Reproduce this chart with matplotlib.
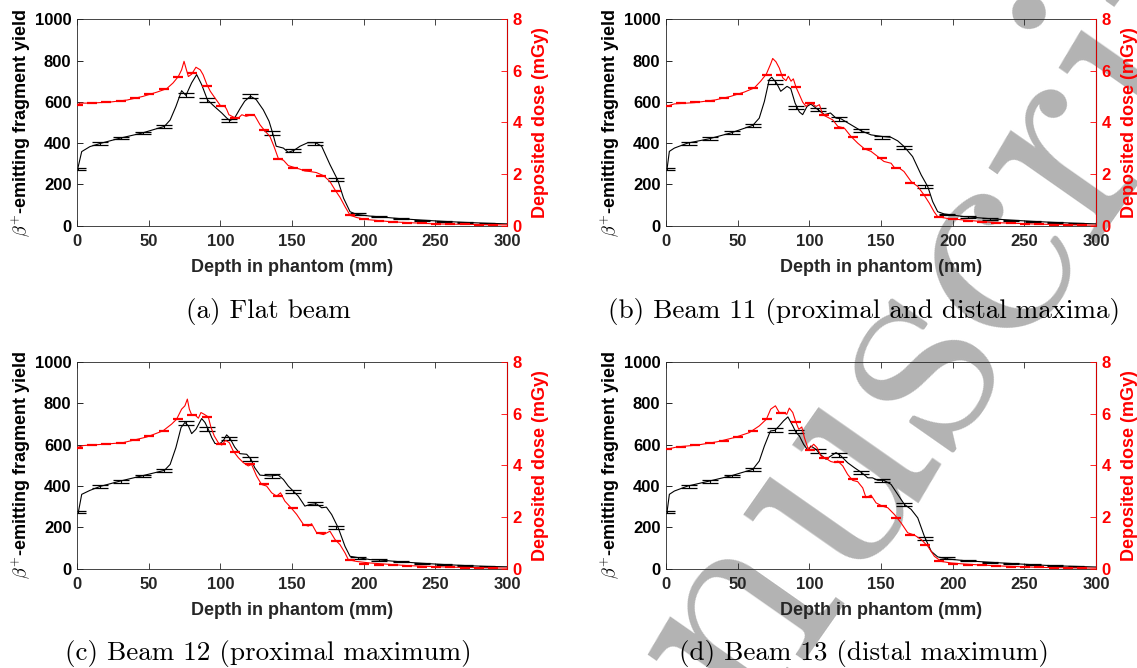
import matplotlib
matplotlib.use("Agg")
import matplotlib.pyplot as plt

plt.rcParams['font.family'] = ['Liberation Sans', 'DejaVu Sans']
plt.rcParams['font.weight'] = 'bold'
plt.rcParams['axes.labelweight'] = 'bold'
plt.rcParams['mathtext.fontset'] = 'cm'

# depth of the error-bar samples (mm) and their half widths
ebar_x = [1, 16, 31, 46, 61, 76, 91, 106, 121, 136, 151, 166, 181, 196, 211, 226, 241, 256, 271, 286]
ebar_err = [6, 7, 7, 7, 8, 10, 9, 8, 9, 8, 7, 7, 7, 4, 3, 3, 3, 3, 3, 3]
# depth of the dose markers (mm)
dmark_x = [0.5, 10.5, 20.5, 30.5, 40.5, 50.5, 60.5, 70.5, 80.5, 90.5, 100.5, 110.5, 120.5, 130.5, 140.5,
           150.5, 160.5, 170.5, 180.5, 190.5, 200.5, 210.5, 220.5, 230.5, 240.5, 250.5, 260.5, 270.5, 280.5, 290.5]

# (a) flat beam
yield_x_a = [0.5, 3.3, 9, 16, 30, 45, 61, 65, 69, 73, 76, 80, 83.5, 87, 91, 95, 101, 104.4, 106.7, 110, 114, 117,
             121, 125, 130, 134, 136.5, 139, 144, 147.4, 151.6, 155.6, 161, 166.5, 170.7, 176.5, 182, 186, 190.5,
             195, 204, 211, 226, 241, 256, 271, 286, 300]
yield_a = [275, 359, 383, 398, 424, 448, 481, 512, 577, 654, 631, 692, 732, 683, 610, 583, 546, 522, 509, 522, 570,
           603, 627, 611, 561, 506, 449, 385, 376, 355, 366, 385, 402, 402, 385, 296, 220, 133, 68, 55, 47, 43, 34,
           27, 21, 16, 12, 9]
dose_x_a = [0, 2, 9, 23, 35, 46, 56, 62.6, 67, 70.7, 73, 74.7, 76, 77.7, 80, 83, 86, 88, 90.5, 93, 96, 100, 102,
            103.5, 104.5, 106, 109.5, 112.6, 115, 118, 122, 124, 127.7, 131, 134.6, 137.4, 140.5, 144, 147.4, 152,
            155.6, 159, 162.6, 167, 172, 176.5, 180, 183.5, 187, 190.5, 195, 200, 204, 220, 250, 300]
dose_a = [4.66, 4.75, 4.75, 4.79, 4.87, 5.01, 5.18, 5.31, 5.53, 5.78, 6.04, 6.37, 6.11, 5.78, 5.87, 6.14, 6.04,
          5.85, 5.49, 5.21, 4.97, 4.66, 4.64, 4.6, 4.5, 4.3, 4.2, 4.17, 4.3, 4.24, 4.3, 4.27, 3.91, 3.68, 3.46,
          3.08, 2.6, 2.54, 2.33, 2.25, 2.19, 2.12, 2.1, 2.06, 1.94, 1.71, 1.39, 1.1, 0.74, 0.41, 0.32, 0.26, 0.23,
          0.15, 0.07, 0.03]
ebar_a = [275, 398, 425, 449, 481, 631, 610, 510, 627, 449, 363, 400, 222, 57, 43, 34, 27, 21, 16, 12]
dmark_a = [4.68, 4.76, 4.79, 4.84, 4.94, 5.09, 5.28, 5.76, 5.92, 5.43, 4.62, 4.19, 4.3, 3.72, 2.6, 2.24, 2.14, 1.92,
           1.35, 0.42, 0.26, 0.19, 0.15, 0.12, 0.09, 0.07, 0.06, 0.05, 0.04, 0.03]

# (b) beam 11
yield_x_b = [0.7, 2.3, 5.8, 15, 30, 45, 60.5, 65, 68.6, 72, 73.7, 77, 80, 84.4, 87, 90, 93, 95.3, 98.4, 101, 106,
             110.5, 114.7, 118.6, 122, 129, 136, 143, 151, 157, 161.6, 166, 172, 178, 182.6, 186, 189.5, 194, 208,
             226, 241, 256, 271, 286, 300]
yield_b = [275, 360, 376, 400, 421, 449, 486, 521, 602, 708, 719, 692, 651, 675, 664, 594, 551, 538, 578, 589, 562,
           538, 546, 521, 518, 489, 460, 440, 432, 428, 411, 384, 335, 246, 189, 117, 68, 57, 44, 34, 27, 21, 16,
           12, 9]
dose_x_b = [0, 5.8, 20, 34, 45, 54.7, 61.6, 66, 70, 73, 74.4, 76.7, 79, 81.4, 83.7, 85.3, 87.2, 88.8, 90.7, 93,
            95.3, 97.7, 100, 102.3, 104.6, 107, 109.3, 112.8, 116.3, 119.8, 124.4, 129, 133.7, 138.4, 143, 147.7,
            152, 157, 159.3, 162.8, 166, 171, 175.6, 180, 183.7, 187, 189.5, 196.5, 208, 230, 260, 300]
dose_b = [4.62, 4.72, 4.77, 4.87, 5.01, 5.18, 5.34, 5.6, 5.88, 6.27, 6.48, 6.35, 6.11, 5.73, 5.62, 5.79, 5.6, 5.69,
          5.36, 5.08, 4.79, 4.62, 4.75, 4.72, 4.62, 4.69, 4.3, 4.2, 4.1, 3.85, 3.78, 3.46, 3.2, 2.98, 2.88, 2.68,
          2.49, 2.42, 2.25, 2.23, 2.1, 1.71, 1.52, 1.19, 0.87, 0.54, 0.35, 0.28, 0.22, 0.12, 0.06, 0.02]
ebar_b = [275, 400, 423, 450, 487, 695, 573, 562, 517, 460, 429, 379, 190, 55, 42, 33, 26, 20, 15, 11]
dmark_b = [4.62, 4.74, 4.78, 4.85, 4.95, 5.1, 5.32, 5.85, 5.85, 5.36, 4.75, 4.3, 3.8, 3.42, 2.98, 2.64, 2.25, 1.65,
           1.19, 0.35, 0.25, 0.18, 0.14, 0.11, 0.09, 0.07, 0.05, 0.04, 0.03, 0.02]

# (c) beam 12
yield_x_c = [1, 3.3, 9, 16, 30, 45, 61, 65, 69, 72.6, 75.3, 77.7, 80, 83, 87, 89.3, 91.6, 94, 96.3, 99.8, 102,
             104.4, 106.7, 110, 113.7, 118.4, 121.4, 124, 127.7, 134.7, 140.5, 144, 147.4, 151, 154.4, 159, 162.6,
             167, 170.7, 174, 177.7, 182.3, 187, 190.5, 197.4, 204.4, 211, 226, 241, 256, 271, 286, 300]
yield_c = [275, 360, 379, 398, 424, 449, 476, 505, 586, 683, 708, 692, 654, 675, 727, 708, 675, 635, 606, 606, 619,
           648, 632, 589, 557, 554, 530, 489, 453, 449, 453, 432, 400, 375, 351, 303, 311, 314, 295, 298, 262, 197,
           108, 60, 52, 44, 42, 33, 26, 20, 15, 11, 9]
dose_x_c = [0, 4.4, 18.4, 32, 48.6, 60, 66, 69.5, 73, 75.3, 77, 78.4, 80, 82.3, 84.7, 86.5, 88.8, 91.6, 93.5, 95.8,
            98.6, 101, 103.7, 106.3, 109, 112.6, 116, 119.5, 121.8, 125.3, 128.8, 132.3, 135.8, 139.3, 142, 145,
            149.8, 153.3, 158, 161.4, 163.7, 167.2, 171.9, 176.5, 180, 183.5, 187, 189.3, 195, 204.4, 230, 260, 300]
dose_c = [4.69, 4.77, 4.82, 4.88, 5.1, 5.34, 5.6, 5.79, 6.18, 6.31, 6.57, 6.18, 5.96, 5.96, 5.83, 6.05, 5.98, 5.88,
          5.47, 5.14, 4.88, 4.79, 4.97, 4.88, 4.56, 4.3, 4.11, 3.98, 4.04, 3.59, 3.26, 3.2, 2.94, 2.81, 2.94, 2.62,
          2.33, 2.1, 1.71, 1.65, 1.74, 1.39, 1.32, 1.45, 1.13, 0.93, 0.61, 0.35, 0.28, 0.22, 0.12, 0.06, 0.02]
ebar_c = [275, 398, 424, 449, 476, 707, 678, 630, 530, 449, 375, 314, 201, 52, 42, 33, 26, 20, 15, 11]
dmark_c = [4.69, 4.79, 4.82, 4.87, 4.98, 5.13, 5.34, 5.79, 5.96, 5.88, 4.82, 4.52, 4.04, 3.29, 2.81, 2.36, 1.71, 1.39,
           1.09, 0.32, 0.19, 0.16, 0.13, 0.1, 0.08, 0.07, 0.05, 0.04, 0.03, 0.02]

# (d) beam 13
yield_x_d = [0.7, 2.3, 5.8, 15, 30, 45, 60.5, 65, 68.6, 72.8, 76, 79, 82, 85, 88.4, 90.7, 93, 96, 99, 101, 104.6,
             108, 111.6, 115, 118.6, 122, 126.7, 131.4, 136.5, 140.7, 144, 147.7, 151.9, 157, 161.6, 166.3, 171,
             175.6, 180.2, 185, 189.5, 196.5, 208, 226, 241, 256, 271, 286, 300]
yield_d = [275, 360, 376, 400, 424, 449, 481, 521, 594, 667, 670, 692, 716, 735, 692, 659, 643, 602, 573, 594, 578,
           551, 530, 546, 562, 546, 513, 489, 465, 440, 440, 428, 428, 408, 360, 311, 287, 246, 157, 84, 57, 47, 39,
           31, 25, 19, 14, 11, 8]
dose_x_d = [0, 8, 22, 36, 47.7, 58, 65, 70, 73, 76.3, 79, 82, 84.2, 86, 88.4, 90.7, 92.6, 94.7, 96.5, 99, 101, 103,
            105.3, 108, 111.6, 115, 118, 119.8, 123.3, 126.7, 130.2, 133.7, 137.2, 139.5, 143, 146.5, 151, 154.7,
            159.3, 164, 168.6, 173.3, 178, 182.6, 187.2, 192, 199, 208, 230, 260, 300]
dose_d = [4.62, 4.72, 4.79, 4.92, 5.08, 5.27, 5.53, 5.79, 6.18, 6.31, 6.05, 6.05, 5.98, 6.22, 6.05, 5.66, 5.4, 5.49,
          5.08, 4.66, 4.71, 4.82, 4.69, 4.37, 4.27, 4.15, 4.11, 4.17, 3.98, 3.65, 3.42, 3.37, 3.13, 2.75, 2.85, 2.55,
          2.42, 2.36, 2.1, 1.77, 1.39, 1.3, 1.13, 0.87, 0.48, 0.28, 0.22, 0.18, 0.11, 0.05, 0.02]
ebar_d = [275, 400, 421, 449, 481, 670, 664, 570, 551, 465, 429, 311, 144, 52, 40, 31, 25, 19, 14, 11]
dmark_d = [4.62, 4.72, 4.78, 4.86, 4.96, 5.12, 5.33, 5.79, 6.02, 5.7, 4.6, 4.27, 4.15, 3.46, 2.77, 2.42, 1.97, 1.32,
           0.93, 0.28, 0.19, 0.16, 0.13, 0.1, 0.08, 0.06, 0.05, 0.04, 0.03, 0.02]

captions = ['(a) Flat beam', '(b) Beam 11 (proximal and distal maxima)',
            '(c) Beam 12 (proximal maximum)', '(d) Beam 13 (distal maximum)']

DARK = '#262626'


def draw_panel(rect, yx, yv, dx, dv, ev, mv):
    ax = fig.add_axes(rect)
    ax.set_facecolor('none')
    ax.plot(yx, yv, color='k', lw=0.8)
    ax.errorbar(ebar_x, ev, yerr=ebar_err, fmt='none', ecolor='k', elinewidth=0.8,
                capsize=6, capthick=0.9)
    ax.set_xlim(0, 300)
    ax.set_ylim(0, 1000)
    ax.set_xticks(range(0, 301, 50))
    ax.set_yticks(range(0, 1001, 200))
    ax.tick_params(direction='in', length=4, width=0.6, labelsize=12, top=True, right=False, pad=4)
    ax.tick_params(axis='x', colors=DARK, pad=6)
    ax.tick_params(axis='y', colors='k')
    for s in ['left', 'bottom', 'top']:
        ax.spines[s].set_color(DARK)
        ax.spines[s].set_linewidth(0.6)
    ax.set_xlabel('Depth in phantom (mm)', fontsize=13, fontweight='bold', color=DARK, labelpad=7)
    ax.set_ylabel(r'$\beta^{+}$-emitting fragment yield', fontsize=13, fontweight='bold', color='k',
                  labelpad=1)

    ax2 = ax.twinx()
    ax2.plot(dx, dv, color='r', lw=0.8)
    ax2.plot(dmark_x, mv, ls='none', marker='_', ms=7, mew=1.6, color='r')
    ax2.set_ylim(0, 8)
    ax2.set_yticks(range(0, 9, 2))
    ax2.tick_params(direction='in', length=4, width=0.6, labelsize=12, colors='r', pad=4)
    ax2.spines['right'].set_color('r')
    ax2.spines['right'].set_linewidth(0.6)
    for s in ['left', 'bottom', 'top']:
        ax2.spines[s].set_visible(False)
    ax2.set_ylabel('Deposited dose (mGy)', fontsize=13, fontweight='bold', color='r', labelpad=7)
    return ax


fig = plt.figure(figsize=(11.37, 6.68), dpi=100)

w, h = 0.3782, 0.3091
draw_panel([0.0677, 0.6621, w, h], yield_x_a, yield_a, dose_x_a, dose_a, ebar_a, dmark_a)
draw_panel([0.5858, 0.6621, w, h], yield_x_b, yield_b, dose_x_b, dose_b, ebar_b, dmark_b)
draw_panel([0.0677, 0.1487, w, h], yield_x_c, yield_c, dose_x_c, dose_c, ebar_c, dmark_c)
draw_panel([0.5858, 0.1487, w, h], yield_x_d, yield_d, dose_x_d, dose_d, ebar_d, dmark_d)

for cap, (cx, cy) in zip(captions, [(0.2357, 0.534), (0.760, 0.534), (0.2357, 0.021), (0.760, 0.021)]):
    fig.text(cx, cy, cap, ha='center', va='center', fontsize=19.5, family='cmr10',
             fontweight='normal', color='k')

# grey diagonal stamp behind the panels
fig.text(-0.229, -2.267, 'Accepted Manuscript', fontsize=220, family='cmr10', fontweight='normal',
         color='#b3b3b3', rotation=55, rotation_mode='anchor', ha='left', va='baseline', zorder=-5)

fig.savefig('out.png', dpi=100, facecolor='white')
